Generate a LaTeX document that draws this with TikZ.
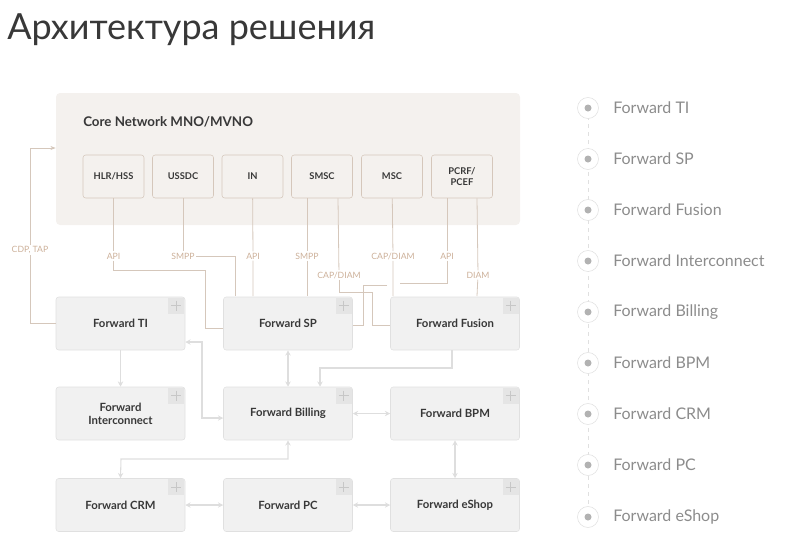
\documentclass[tikz,border=0pt]{standalone}
\usepackage{fontspec}
\setmainfont{Lato}
\usetikzlibrary{arrows.meta}
\definecolor{corefill}{rgb}{0.957, 0.945, 0.933}
\definecolor{coreline}{rgb}{0.835, 0.780, 0.733}
\definecolor{labelcolor}{rgb}{0.800, 0.690, 0.600}
\definecolor{boxfill}{rgb}{0.945, 0.945, 0.945}
\definecolor{boxline}{rgb}{0.880, 0.880, 0.880}
\definecolor{plusfill}{rgb}{0.900, 0.900, 0.900}
\definecolor{plusline}{rgb}{0.780, 0.780, 0.780}
\definecolor{dotcolor}{rgb}{0.700, 0.700, 0.700}
\definecolor{linkcolor}{rgb}{0.870, 0.870, 0.870}
\definecolor{textcolor}{rgb}{0.220, 0.220, 0.220}
\definecolor{legendcolor}{rgb}{0.550, 0.550, 0.550}
\newlength{\du}
\setlength{\du}{0.75pt}
\tikzset{
  corebox/.style={draw=coreline, fill=corefill, rounded corners=2pt, minimum width=61\du, minimum height=43\du, align=center, font=\bfseries\fontsize{7}{8}\selectfont, text=textcolor, inner sep=0pt},
  fwdbox/.style={draw=boxline, fill=boxfill, rounded corners=2pt, minimum width=129\du, minimum height=53\du, align=center, font=\fontsize{8.5}{10}\selectfont\bfseries, text=textcolor, inner sep=0pt},
  proto/.style={font=\fontsize{6.5}{7}\selectfont, text=labelcolor, inner sep=1pt},
  coreedge/.style={draw=coreline, line width=0.6pt},
  link/.style={draw=linkcolor, line width=0.8pt, -{Stealth[length=4pt,width=4pt]}},
  biglink/.style={link, {Stealth[length=4pt,width=4pt]}-{Stealth[length=4pt,width=4pt]}},
  legendtext/.style={anchor=west, font=\fontsize{12}{14}\selectfont, text=legendcolor, inner sep=0pt},
}
\newcommand{\plusmark}[1]{%
  \fill[plusfill] ([xshift=-17\du,yshift=-1\du]#1.north east) rectangle ([xshift=-1\du,yshift=-17\du]#1.north east);
  \draw[plusline, line width=0.5pt] ([xshift=-9\du,yshift=-4\du]#1.north east) -- ([xshift=-9\du,yshift=-14\du]#1.north east)
    ([xshift=-14\du,yshift=-9\du]#1.north east) -- ([xshift=-4\du,yshift=-9\du]#1.north east);}
\begin{document}
\begin{tikzpicture}[x=\du, y=-\du]
\useasboundingbox (0,0) rectangle (800,544);
% title
\node[anchor=west, font=\fontsize{27}{30}\selectfont, text=textcolor, inner sep=0pt] (title) at (7,30) {Архитектура решения};
% core network
\node[fill=corefill, rounded corners=3pt, minimum width=464\du, minimum height=132\du, inner sep=0pt] (core) at (288,159) {};
\node[anchor=west, font=\bfseries\fontsize{10}{12}\selectfont, text=textcolor, inner sep=0pt] (coretitle) at (83,122) {Core Network MNO/MVNO};
\node[corebox] (hlr) at (113.5,176.5) {HLR/HSS};
\node[corebox] (ussdc) at (183,176.5) {USSDC};
\node[corebox] (in) at (252.5,176.5) {IN};
\node[corebox] (smsc) at (322,176.5) {SMSC};
\node[corebox] (msc) at (392,176.5) {MSC};
\node[corebox] (pcrf) at (462,176.5) {PCRF/\\PCEF};
% forward products
\node[fwdbox] (ti) at (120.5,323.5) {Forward TI};
\node[fwdbox] (sp) at (288,323.5) {Forward SP};
\node[fwdbox] (fusion) at (455,323.5) {Forward Fusion};
\node[fwdbox] (inter) at (120.5,413.5) {Forward\\Interconnect};
\node[fwdbox] (billing) at (288,413.5) {Forward Billing};
\node[fwdbox] (bpm) at (455,413.5) {Forward BPM};
\node[fwdbox] (crm) at (120.5,505) {Forward CRM};
\node[fwdbox] (pc) at (288,505) {Forward PC};
\node[fwdbox] (eshop) at (455,505) {Forward eShop};
\foreach \n in {ti,sp,fusion,inter,billing,bpm,crm,pc,eshop} {\plusmark{\n}}
% protocol labels
\node[proto] (l1) at (113.5,256) {API};
\node[proto] (l2) at (183,256) {SMPP};
\node[proto] (l3) at (253,256) {API};
\node[proto] (l4) at (307,256) {SMPP};
\node[proto] (l5) at (393,256) {CAP/DIAM};
\node[proto] (l6) at (447,256) {API};
\node[proto] (l7) at (339,275) {CAP/DIAM};
\node[proto] (l8) at (478,275) {DIAM};
\node[proto] (l9) at (30,250) {CDP, TAP};
% core links
\draw[coreedge] (hlr) -- (l1);
\draw[coreedge] (l1) |- (205,270) |- (sp.west |- 0,328);
\draw[coreedge] (ussdc) -- (l2);
\draw[coreedge] (l2) -| (235,296);
\draw[coreedge] (in) -- (l3) -- (253,296);
\draw[coreedge] (smsc.south -| 307,0) -- (l4) -- (307,296);
\draw[coreedge] (smsc.south -| 338,0) -- (l7);
\draw[coreedge] (l7) |- (372,292) |- (fusion.west |- 0,325);
\draw[coreedge] (msc) -- (l5) -- (393,296);
\draw[coreedge] (pcrf.south -| 447,0) -- (l6) |- (400,283);
\draw[coreedge] (387,285) -- (363,285) |- (sp.east |- 0,325);
\draw[coreedge] (pcrf.south -| 477,0) -- (l8) -- (477,296);
\draw[coreedge] (ti.west) -| (l9);
\draw[coreedge, -{Stealth[length=4pt,width=3pt]}] (l9) |- (core.west |- 0,148);
% product links
\draw[link] (ti) -- (inter);
\draw[biglink] (ti.east |- 0,342) -| (202,418) -- (billing.west |- 0,418);
\draw[biglink] (sp) -- (billing);
\draw[link] (fusion.south -| 452,0) |- (320,368) -- (billing.north -| 320,0);
\draw[biglink] (billing) -- (bpm);
\draw[biglink] (billing.south) |- (121,459) -- (crm.north);
\draw[biglink] (bpm) -- (eshop);
\draw[biglink] (crm) -- (pc);
\draw[biglink] (pc) -- (eshop);
% legend
\draw[draw=boxline, dashed, line width=0.6pt] (588,108) -- (588,517);
\foreach \y/\t [count=\i] in {108/Forward TI,159/Forward SP,210/Forward Fusion,261/Forward Interconnect,312/Forward Billing,363/Forward BPM,414/Forward CRM,465/Forward PC,517/Forward eShop} {
  \node[circle, draw=boxline, fill=white, minimum size=21\du, inner sep=0pt] (dot\i) at (588,\y) {};
  \fill[dotcolor] (dot\i) circle (3.5\du);
  \node[legendtext] (leg\i) at (613,\y) {\t};
}
\end{tikzpicture}
\end{document}
